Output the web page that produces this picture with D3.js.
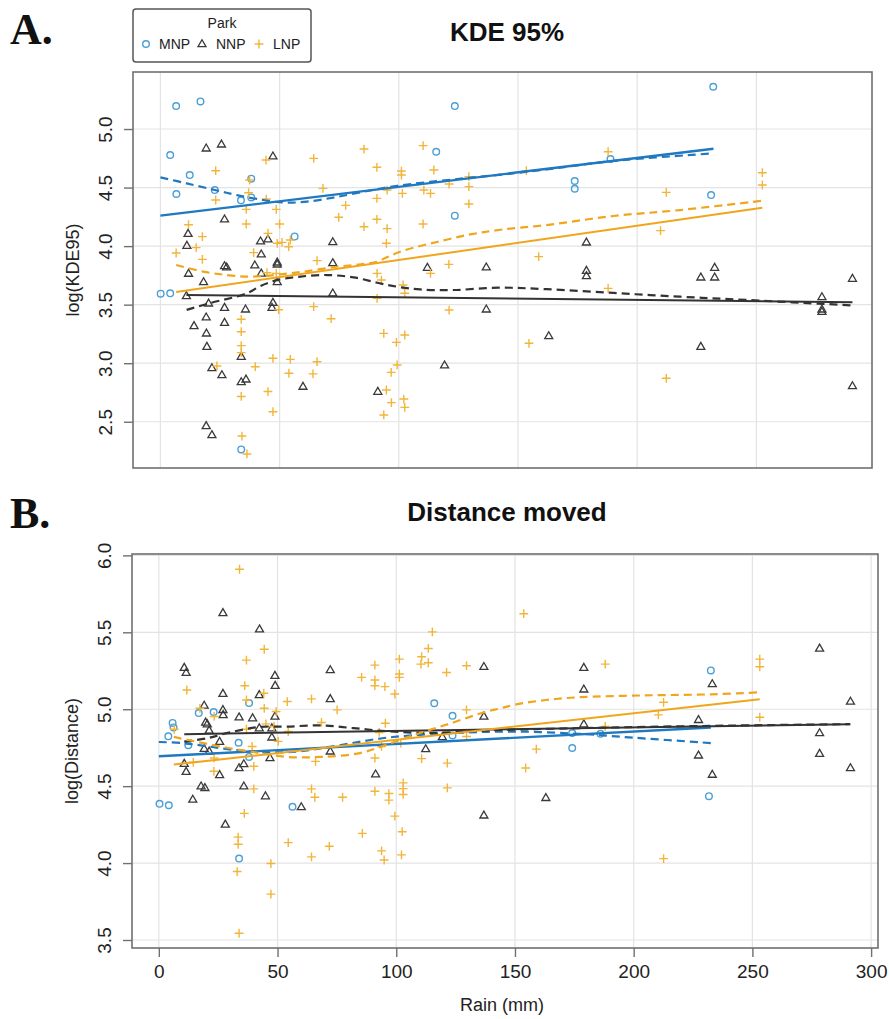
<!DOCTYPE html>
<html><head><meta charset="utf-8">
<script src="https://cdn.jsdelivr.net/npm/d3@7"></script>
<style>body{margin:0;background:#fff}svg{display:block}</style>
</head><body>
<svg id="chart" width="889" height="1019"></svg>
<script>
// ---------- DATA ----------
const parks = ["MNP", "NNP", "LNP"];
const xTicks = [0, 50, 100, 150, 200, 250, 300];
const kdeTicks = [2.5, 3.0, 3.5, 4.0, 4.5, 5.0];
const distTicks = [3.5, 4.0, 4.5, 5.0, 5.5, 6.0];

// Panel A: log(KDE95) vs rain
const kdeMNP = [[6.6,5.196],[16.8,5.236],[123.5,5.196],[4.1,4.778],[115.7,4.806],[12.3,4.607],[6.7,4.445],[22.8,4.479],[38.1,4.576],[33.8,4.391],[38.1,4.416],[123.5,4.26],[56.3,4.083],[0.1,3.594],[4.1,3.597],[33.9,2.264],[231.9,5.361],[173.8,4.556],[173.8,4.49],[188.8,4.744],[231,4.436]];
const kdeNNP = [[19.2,4.835],[25.6,4.869],[47.2,4.767],[26.9,4.229],[11.6,4.106],[11.1,4.004],[11.8,3.765],[18.1,3.693],[10.9,3.574],[20.2,3.511],[26.9,3.474],[35.7,3.46],[46.8,3.474],[47.2,3.517],[19.2,3.392],[26.9,3.346],[14.1,3.318],[19.3,3.255],[19.5,3.141],[21.6,2.959],[25.8,2.899],[33.9,2.839],[35.9,2.862],[33.9,3.056],[19.2,2.464],[21.6,2.387],[42,4.041],[45.1,4.058],[42.3,3.93],[39.6,3.836],[42.3,3.767],[26.9,3.83],[27.8,3.819],[49,3.861],[49,3.844],[49,3.693],[72.3,4.035],[72.3,3.856],[72.3,3.597],[59.8,2.8],[91.2,2.757],[112,3.816],[119.2,2.982],[136.7,3.819],[136.7,3.46],[178.7,4.032],[178.7,3.79],[178.7,3.745],[162.9,3.232],[226.7,3.733],[232.5,3.816],[232.5,3.733],[226.7,3.141],[277.5,3.565],[277.5,3.46],[277.5,3.44],[290.3,3.722],[290.3,2.805]];
const kdeLNP = [[44.3,4.735],[23.2,4.644],[37.4,4.564],[37,4.456],[23.2,4.394],[44.4,4.402],[36,4.314],[48.6,4.314],[36,4.189],[50,4.189],[11.8,4.183],[17.6,4.081],[45.1,4.109],[6.6,3.941],[15,3.987],[17.6,3.887],[39.1,3.944],[49,4.024],[51,4.032],[53.8,3.995],[54.5,4.052],[65.7,3.876],[48.6,3.767],[44.7,3.773],[49.6,3.457],[64.3,3.483],[71.6,3.38],[33.9,3.375],[33.9,3.269],[33.9,3.15],[33.9,3.09],[23.7,2.976],[39.8,2.97],[47.2,3.042],[54.5,3.033],[65.7,3.013],[53.9,2.914],[64,2.909],[45.1,2.758],[33.9,2.716],[47.2,2.586],[34.2,2.378],[36.3,2.225],[64.3,4.749],[85.4,4.829],[68.2,4.493],[77.7,4.348],[74.8,4.246],[90.8,4.673],[90.8,4.408],[85.4,4.166],[90.8,4.229],[95.1,4.149],[94.8,4.024],[95.1,4.479],[101.1,4.641],[101.1,4.607],[101.5,4.45],[110.2,4.858],[114.7,4.65],[110.5,4.479],[113.3,4.45],[121.1,4.53],[129.4,4.593],[129.4,4.508],[129.4,4.36],[110.2,4.189],[121,3.844],[113.3,3.767],[90.9,3.767],[92.7,3.71],[101.8,3.668],[102.5,3.597],[90.9,3.554],[121.1,3.454],[93.7,3.255],[99,3.178],[102.5,3.241],[99.3,2.985],[96.8,2.922],[94.8,2.771],[96.9,2.663],[102.1,2.694],[102.5,2.623],[93.7,2.558],[187.8,4.806],[153.5,4.644],[252.5,4.627],[252.5,4.522],[212.2,4.459],[209.8,4.132],[158.7,3.91],[187.8,3.639],[154.6,3.17],[212.2,2.871]];
// fitted lines (linear) and loess curves, panel A
const kdeLinMNP = [[0,4.26],[232,4.832]];
const kdeLinNNP = [[10.9,3.582],[290.3,3.52]];
const kdeLinLNP = [[6.6,3.608],[252.5,4.328]];
const kdeLoMNP = [[0,4.587],[11,4.536],[22.8,4.479],[32,4.436],[43,4.394],[52,4.372],[61.5,4.38],[74,4.42],[88,4.475],[99.4,4.515],[123,4.57],[142,4.608],[162,4.655],[189,4.725],[232,4.792]];
const kdeLoNNP = [[11,3.455],[20.2,3.51],[36.3,3.597],[42,3.66],[49,3.71],[58.8,3.74],[70,3.753],[81,3.733],[91,3.687],[99.4,3.653],[109,3.63],[123,3.625],[142,3.645],[162,3.632],[190,3.6],[218,3.568],[246,3.54],[290,3.494]];
const kdeLoLNP = [[6.6,3.839],[18,3.782],[27.9,3.753],[36.3,3.739],[43.3,3.745],[50.3,3.759],[60,3.782],[74,3.824],[84,3.845],[91,3.867],[95,3.905],[102,3.962],[116,4.035],[130,4.1],[142.7,4.14],[162,4.18],[190,4.257],[218,4.308],[252.5,4.388]];

// Panel B: log(Distance) vs rain
const distMNP = [[0.3,4.385],[4.2,4.376],[4,4.824],[5.8,4.911],[6.2,4.882],[12.4,4.766],[16.8,4.975],[23.1,4.982],[33.6,4.782],[38,5.04],[38,4.69],[56.3,4.366],[33.8,4.029],[116,5.039],[123.7,4.957],[123.7,4.83],[174.1,4.845],[174.1,4.748],[186,4.84],[232.5,5.252],[231.7,4.435]];
const distNNP = [[27,5.626],[42.4,5.52],[10.7,5.27],[11.5,5.237],[72.2,5.255],[48.9,5.218],[49,5.153],[27,5.101],[42.3,5.093],[19.1,5.024],[27,4.996],[27.1,4.963],[33.8,4.948],[39.5,4.942],[48.9,4.953],[72.2,5.067],[19.7,4.914],[20.4,4.903],[21.2,4.862],[42.3,4.877],[47.6,4.877],[47.6,4.817],[25.6,4.789],[19.1,4.743],[21.2,4.726],[10.7,4.646],[11.5,4.594],[25.6,4.573],[33.8,4.618],[35.8,4.644],[46.8,4.683],[72.2,4.726],[17.8,4.499],[19.4,4.489],[35.8,4.499],[44.9,4.435],[14.3,4.413],[60,4.364],[28,4.251],[91.3,4.577],[112.4,4.741],[119.4,4.819],[136.9,5.276],[136.9,4.953],[136.9,4.31],[179,5.27],[179,5.129],[179,4.903],[163,4.424],[227.3,4.931],[233.1,5.164],[227.3,4.7],[233.1,4.575],[278.3,5.395],[278.3,4.845],[278.3,4.711],[291.3,5.05],[291.3,4.618]];
const distLNP = [[34,5.91],[44.4,5.39],[36.9,5.319],[11.8,5.125],[36.2,5.153],[44.2,5.104],[36.9,5.06],[44.4,5.006],[17.3,5.006],[23.3,4.953],[6.5,4.87],[36.9,4.87],[45.1,4.905],[48.5,4.888],[49.4,4.985],[54.1,5.05],[64.3,5.067],[75.1,4.996],[68.5,4.914],[54.5,4.855],[50.3,4.791],[39.3,4.758],[23.3,4.683],[14.5,4.655],[40,4.629],[23.2,4.597],[66,4.661],[40,4.482],[64.3,4.482],[65.7,4.428],[77.4,4.428],[36,4.323],[54.5,4.133],[64.3,4.04],[71.8,4.109],[33.4,4.169],[33.4,4.122],[33,3.945],[47.2,3.997],[47.2,3.798],[33.8,3.544],[85.4,5.207],[91,5.287],[91,5.19],[91,5.153],[95.2,5.147],[99.4,5.099],[101.3,5.326],[101.3,5.229],[101.3,5.207],[95.4,4.909],[92.8,4.849],[93.8,4.758],[91,4.683],[101.9,4.78],[91,4.467],[96.9,4.452],[96.9,4.409],[102.9,4.521],[102.9,4.484],[102.9,4.446],[99.4,4.305],[102.5,4.204],[85.7,4.193],[93.8,4.079],[94.9,4.02],[102.2,4.053],[115.2,5.503],[113.5,5.395],[110.7,5.341],[110.4,5.293],[113.5,5.302],[121.2,5.239],[129.6,5.283],[129.6,4.996],[110.7,4.679],[121.5,4.65],[121.5,4.489],[129.6,4.823],[153.7,5.621],[188,5.293],[212.6,5.045],[210.4,4.963],[188,4.888],[159,4.741],[154.5,4.618],[212.6,4.029],[253.1,5.326],[253.1,5.276],[253.1,4.948]];
const distLinMNP = [[0,4.694],[232.5,4.881]];
const distLinNNP = [[10.7,4.838],[291.3,4.903]];
const distLinLNP = [[6.3,4.64],[253.1,5.065]];
const distLoMNP = [[0,4.787],[10,4.78],[20,4.76],[32,4.735],[45,4.72],[58,4.725],[72,4.755],[96,4.815],[124,4.845],[150,4.855],[177,4.84],[200,4.815],[232.5,4.78]];
const distLoNNP = [[10.7,4.79],[20,4.81],[30,4.85],[42.5,4.885],[54,4.887],[68,4.895],[82,4.877],[96,4.857],[110,4.847],[124,4.85],[135,4.86],[177,4.877],[233,4.892],[291,4.903]];
const distLoLNP = [[6.3,4.82],[25.7,4.758],[42.6,4.715],[54,4.69],[68,4.69],[84.7,4.715],[96,4.77],[110,4.845],[124,4.914],[137,4.98],[144,5.006],[150,5.03],[163,5.06],[177,5.078],[205,5.09],[233,5.097],[253,5.11]];

// ---------- STYLE ----------
const ptColor = {MNP: "#4b9fd6", NNP: "#3a3a3a", LNP: "#f2b53a"};
const lnColor = {MNP: "#1f78c0", NNP: "#333333", LNP: "#f0a61c"};
const font = "Liberation Sans, Arial, sans-serif";

const svg = d3.select("#chart");

function symbol(g, park, x, y) {
  const c = ptColor[park];
  if (park === "MNP") {
    g.append("circle").attr("cx", x).attr("cy", y).attr("r", 3.3)
      .attr("fill", "none").attr("stroke", c).attr("stroke-width", 1.4);
  } else if (park === "NNP") {
    const s = 8, h = s * Math.sqrt(3) / 2;
    g.append("path").attr("d", `M${x},${y - h * 0.62}L${x + s / 2},${y + h * 0.38}L${x - s / 2},${y + h * 0.38}Z`)
      .attr("fill", "none").attr("stroke", c).attr("stroke-width", 1.3);
  } else {
    const s = 4.4;
    g.append("path").attr("d", `M${x - s},${y}H${x + s}M${x},${y - s}V${y + s}`)
      .attr("stroke", c).attr("stroke-width", 1.4);
  }
}

function panel(cfg) {
  const x = d3.scaleLinear().domain(cfg.xDomain).range([cfg.left, cfg.right]);
  const y = d3.scaleLinear().domain(cfg.yDomain).range([cfg.bottom, cfg.top]);
  const g = svg.append("g");

  // grid
  g.append("g").selectAll("line").data(xTicks.filter(t => x(t) <= cfg.right + 0.5)).join("line")
    .attr("x1", d => x(d)).attr("x2", d => x(d)).attr("y1", cfg.top).attr("y2", cfg.bottom)
    .attr("stroke", "#e3e3e3").attr("stroke-width", 1.2);
  g.append("g").selectAll("line").data(cfg.yTicks).join("line")
    .attr("x1", cfg.left).attr("x2", cfg.right).attr("y1", d => y(d)).attr("y2", d => y(d))
    .attr("stroke", "#e3e3e3").attr("stroke-width", 1.2);

  // points
  const pg = g.append("g");
  parks.forEach(p => cfg.points[p].forEach(d => symbol(pg, p, x(d[0]), y(d[1]))));

  // lines
  const line = d3.line().x(d => x(d[0])).y(d => y(d[1]));
  const curve = d3.line().x(d => x(d[0])).y(d => y(d[1])).curve(d3.curveCatmullRom.alpha(0.5));
  parks.forEach(p => {
    g.append("path").attr("d", curve(cfg.lo[p])).attr("fill", "none")
      .attr("stroke", lnColor[p]).attr("stroke-width", 2.2).attr("stroke-dasharray", "8,5");
    g.append("path").attr("d", line(cfg.lin[p])).attr("fill", "none")
      .attr("stroke", lnColor[p]).attr("stroke-width", p === "MNP" ? 2.4 : 2);
  });

  // box
  g.append("rect").attr("x", cfg.left).attr("y", cfg.top)
    .attr("width", cfg.right - cfg.left).attr("height", cfg.bottom - cfg.top)
    .attr("fill", "none").attr("stroke", "#707070").attr("stroke-width", 1.6);

  // y axis
  const ya = d3.axisLeft(y).tickValues(cfg.yTicks).tickFormat(d3.format(".1f")).tickSize(9).tickPadding(0);
  const yg = g.append("g").attr("transform", `translate(${cfg.left},0)`).call(ya);
  yg.select(".domain").remove();
  yg.selectAll(".tick line").attr("stroke", "#707070").attr("stroke-width", 1.4);
  yg.selectAll(".tick text").attr("transform", "rotate(-90)")
    .attr("x", 0).attr("y", -22).attr("dy", 0).attr("text-anchor", "middle")
    .attr("font-family", font).attr("font-size", 19).attr("fill", "#222")
    .attr("transform", function () { return "rotate(-90)"; });
  // reposition rotated labels: center at (left-28, y)
  yg.selectAll(".tick text").each(function (d) {
    d3.select(this).attr("transform", `translate(-28,0) rotate(-90)`).attr("x", 0).attr("y", 0).attr("dy", "0.35em");
  });

  g.append("text").attr("transform", `translate(${cfg.left - 60},${(cfg.top + cfg.bottom) / 2}) rotate(-90)`)
    .attr("text-anchor", "middle").attr("dy", "0.35em")
    .attr("font-family", font).attr("font-size", 18).attr("fill", "#222").text(cfg.yLabel);

  // title
  g.append("text").attr("x", 507).attr("y", cfg.titleY).attr("text-anchor", "middle")
    .attr("font-family", font).attr("font-weight", "bold").attr("font-size", 26).attr("fill", "#111").text(cfg.title);

  // panel letter
  g.append("text").attr("x", 10).attr("y", cfg.letterY)
    .attr("font-family", "Liberation Serif, Times New Roman, serif").attr("font-weight", "bold")
    .attr("font-size", 44).attr("fill", "#111").text(cfg.letter);

  if (cfg.xAxis) {
    const xa = d3.axisBottom(x).tickValues(xTicks).tickSize(9).tickPadding(8).tickFormat(d3.format("d"));
    const xg = g.append("g").attr("transform", `translate(0,${cfg.bottom})`).call(xa);
    xg.select(".domain").remove();
    xg.selectAll(".tick line").attr("stroke", "#707070").attr("stroke-width", 1.4);
    xg.selectAll(".tick text").attr("font-family", font).attr("font-size", 19).attr("fill", "#222");
    g.append("text").attr("x", 502).attr("y", 1011).attr("text-anchor", "middle")
      .attr("font-family", font).attr("font-size", 18).attr("fill", "#222").text("Rain (mm)");
  }
  return {x, y};
}

panel({
  left: 133, right: 872, top: 72, bottom: 468,
  xDomain: [-11.5, 298.5], yDomain: [2.105, 5.487], yTicks: kdeTicks,
  points: {MNP: kdeMNP, NNP: kdeNNP, LNP: kdeLNP},
  lin: {MNP: kdeLinMNP, NNP: kdeLinNNP, LNP: kdeLinLNP},
  lo: {MNP: kdeLoMNP, NNP: kdeLoNNP, LNP: kdeLoLNP},
  yLabel: "log(KDE95)", title: "KDE 95%", titleY: 41, letter: "A.", letterY: 44, xAxis: false
});
panel({
  left: 132, right: 878, top: 554, bottom: 948,
  xDomain: [-11.3, 302.9], yDomain: [3.448, 6.009], yTicks: distTicks,
  points: {MNP: distMNP, NNP: distNNP, LNP: distLNP},
  lin: {MNP: distLinMNP, NNP: distLinNNP, LNP: distLinLNP},
  lo: {MNP: distLoMNP, NNP: distLoNNP, LNP: distLoLNP},
  yLabel: "log(Distance)", title: "Distance moved", titleY: 521, letter: "B.", letterY: 528, xAxis: true
});

// legend
const lg = svg.append("g");
lg.append("rect").attr("x", 133).attr("y", 9).attr("width", 178).attr("height", 53).attr("rx", 3)
  .attr("fill", "#fff").attr("stroke", "#555").attr("stroke-width", 1.5);
lg.append("text").attr("x", 222).attr("y", 28).attr("text-anchor", "middle")
  .attr("font-family", font).attr("font-size", 14).attr("fill", "#222").text("Park");
const legX = {MNP: [146, 159], NNP: [202, 216], LNP: [259, 273]};
parks.forEach(p => {
  symbol(lg, p, legX[p][0], 44);
  lg.append("text").attr("x", legX[p][1]).attr("y", 49)
    .attr("font-family", font).attr("font-size", 14).attr("fill", "#222").text(p);
});
</script>
</body></html>
